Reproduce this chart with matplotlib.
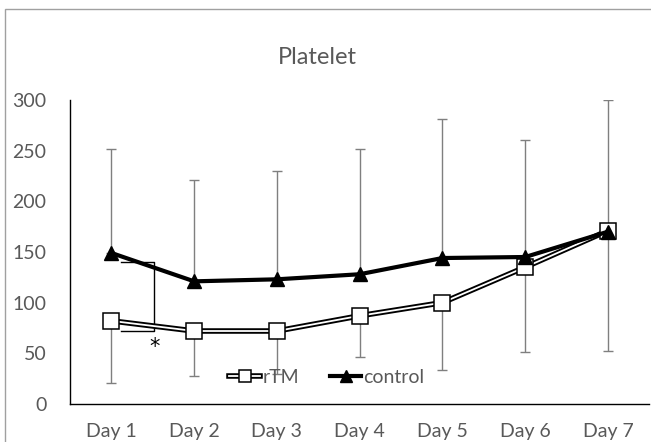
import matplotlib.pyplot as plt
import matplotlib.patheffects as pe
from matplotlib.patches import Rectangle

days = ["Day 1", "Day 2", "Day 3", "Day 4", "Day 5", "Day 6", "Day 7"]
rtm = [82, 72, 72, 87, 100, 135, 171]
control = [149, 121, 123, 128, 144, 145, 170]
control_upper = [252, 221, 230, 252, 281, 260, 300]
rtm_lower = [21, 28, 30, 46, 34, 51, 52]

plt.rcParams["font.family"] = ["Lato", "DejaVu Sans"]
grey = "#595959"

fig = plt.figure(figsize=(6.51, 4.42), dpi=100)
ax = fig.add_axes([0.1075, 0.086, 0.89, 0.688])
x = list(range(len(days)))

# error bars: control upward, rTM downward
up = [u - c for u, c in zip(control_upper, control)]
down = [r - l for r, l in zip(rtm, rtm_lower)]
ax.errorbar(x, control, yerr=[[0] * 7, up], fmt="none", ecolor="#7f7f7f",
            elinewidth=1, capsize=3.5, capthick=1, zorder=1)
ax.errorbar(x, rtm, yerr=[down, [0] * 7], fmt="none", ecolor="#7f7f7f",
            elinewidth=1, capsize=3.5, capthick=1, zorder=1)

# rTM: double line + white squares
l1, = ax.plot(x, rtm, color="white", lw=1.3, zorder=3,
              path_effects=[pe.Stroke(linewidth=4, foreground="black"), pe.Normal()])
m1, = ax.plot(x, rtm, ls="none", marker="s", ms=11, mfc="white", mec="black",
              mew=1.1, zorder=4)
# control
l2, = ax.plot(x, control, color="black", lw=3, marker="^", ms=10, zorder=5)

# significance bracket
ax.plot([0.12, 0.51, 0.51, 0.12], [140, 140, 72, 72], color="black", lw=1, zorder=2)
ax.text(0.52, 56, "*", ha="center", va="center", fontsize=15, color="black",
        family="DejaVu Sans")

ax.set_xlim(-0.5, 6.5)
ax.set_ylim(0, 300)
ax.set_yticks([0, 50, 100, 150, 200, 250, 300])
ax.set_xticks(x)
ax.set_xticklabels(days)
ax.tick_params(length=0, labelsize=14, colors=grey)
ax.tick_params(axis="y", pad=17)
ax.tick_params(axis="x", pad=14)
for s in ["top", "right"]:
    ax.spines[s].set_visible(False)
for s in ["left", "bottom"]:
    ax.spines[s].set_color("black")
    ax.spines[s].set_linewidth(1)

leg = ax.legend([(l1, m1), l2], ["rTM", "control"], loc="center",
                bbox_to_anchor=(0.443, 0.087), ncol=2, frameon=False,
                fontsize=14, handlelength=1.6, handletextpad=0.1,
                columnspacing=1.6, labelcolor=grey, markerscale=0.85)

fig.text(0.488, 1 - 58 / 442, "Platelet", ha="center", va="center",
         fontsize=17, color=grey)

fig.patches.append(Rectangle((0.008, -0.1), 1.1, 1.08, transform=fig.transFigure,
                             fill=False, edgecolor="#a0a0a0", lw=1))

fig.savefig("out.png", dpi=100)
